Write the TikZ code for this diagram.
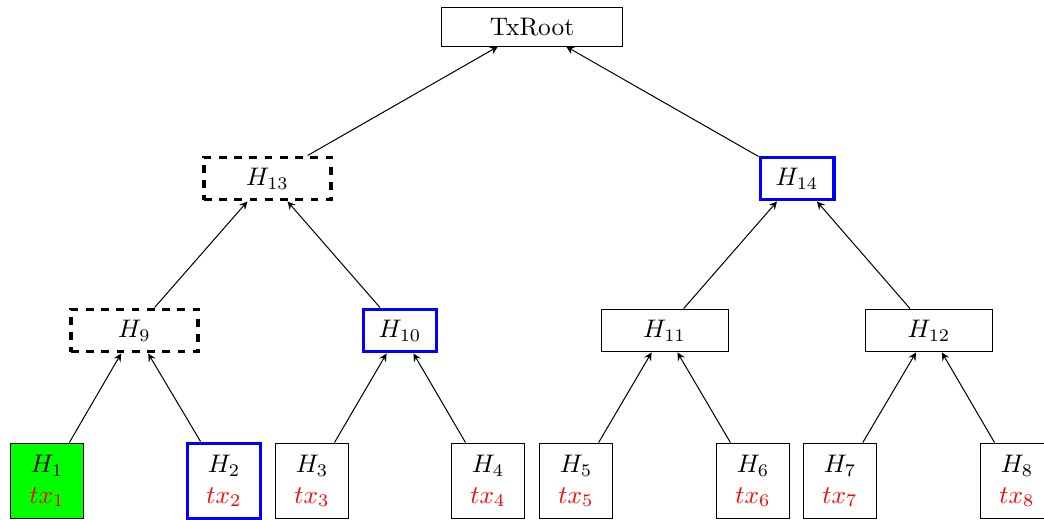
\documentclass[tikz,border=0pt]{standalone}
\usetikzlibrary{arrows}
\begin{document}
\begin{tikzpicture}[x=0.3937pt,y=-0.3937pt,
  box/.style={draw,inner sep=0pt,minimum height=16.9pt,minimum width=50pt},
  wide/.style={box,minimum width=50pt},
  narrow/.style={box,minimum width=29.1pt},
  dashbox/.style={wide,dashed,very thick},
  bluebox/.style={narrow,draw=blue,very thick},
  leaf/.style={draw,inner sep=0pt,minimum width=29.1pt,minimum height=29.9pt,align=center},
  arr/.style={->,>=stealth}]
\useasboundingbox (0,0) rectangle (1044,520);
\node[box,minimum width=70.9pt,minimum height=15pt] (root) at (532,27) {TxRoot};
\node[dashbox] (h13) at (267.5,178.5) {$H_{13}$};
\node[bluebox] (h14) at (797,178.5) {$H_{14}$};
\node[dashbox] (h9) at (134.5,330.5) {$H_{9}$};
\node[bluebox] (h10) at (400,330.5) {$H_{10}$};
\node[wide] (h11) at (664.5,330.5) {$H_{11}$};
\node[wide] (h12) at (929,330.5) {$H_{12}$};
\node[leaf,fill=green] (h1) at (47,481) {$H_1$\\ \textcolor{red}{$tx_1$}};
\node[leaf,draw=blue,very thick] (h2) at (224,481) {$H_2$\\ \textcolor{red}{$tx_2$}};
\node[leaf] (h3) at (312,481) {$H_3$\\ \textcolor{red}{$tx_3$}};
\node[leaf] (h4) at (488,481) {$H_4$\\ \textcolor{red}{$tx_4$}};
\node[leaf] (h5) at (576,481) {$H_5$\\ \textcolor{red}{$tx_5$}};
\node[leaf] (h6) at (753,481) {$H_6$\\ \textcolor{red}{$tx_6$}};
\node[leaf] (h7) at (840,481) {$H_7$\\ \textcolor{red}{$tx_7$}};
\node[leaf] (h8) at (1017,481) {$H_8$\\ \textcolor{red}{$tx_8$}};
\draw[arr] (h13) -- (root);
\draw[arr] (h14) -- (root);
\draw[arr] (h9) -- (h13);
\draw[arr] (h10) -- (h13);
\draw[arr] (h11) -- (h14);
\draw[arr] (h12) -- (h14);
\draw[arr] (h1) -- (h9);
\draw[arr] (h2) -- (h9);
\draw[arr] (h3) -- (h10);
\draw[arr] (h4) -- (h10);
\draw[arr] (h5) -- (h11);
\draw[arr] (h6) -- (h11);
\draw[arr] (h7) -- (h12);
\draw[arr] (h8) -- (h12);
\end{tikzpicture}
\end{document}
